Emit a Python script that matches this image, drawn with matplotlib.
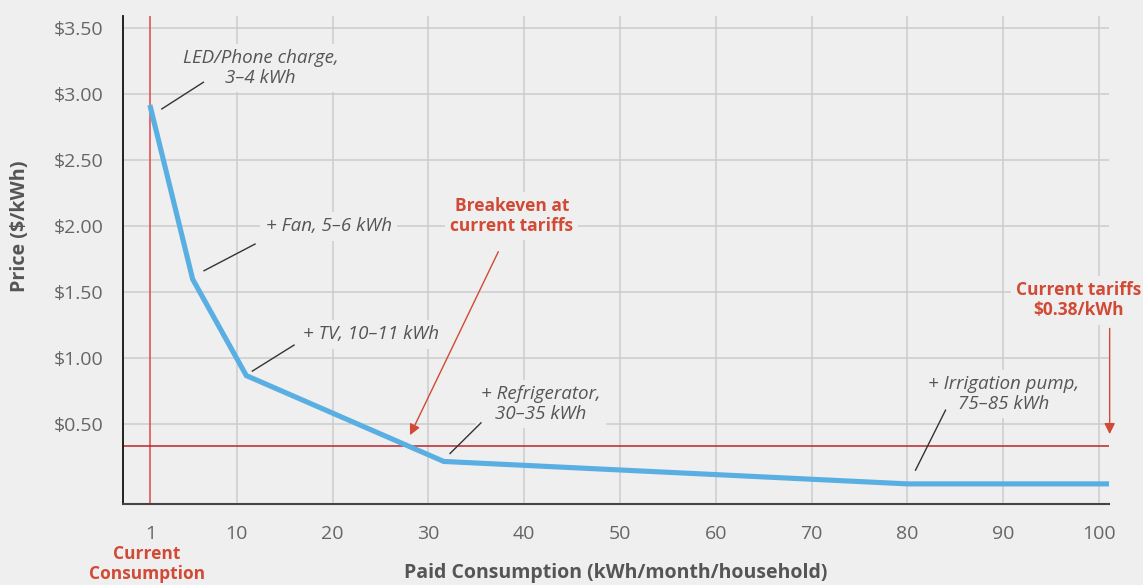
import matplotlib
matplotlib.use("Agg")
import matplotlib.pyplot as plt

# ---- data ----
consumption = [1, 5.4, 11, 31.6, 80, 100.9]
price = [2.9, 1.6, 0.87, 0.22, 0.05, 0.05]
tariff = 0.34
current_consumption = 1
x_ticks = [1, 10, 20, 30, 40, 50, 60, 70, 80, 90, 100]
x_tick_labels = ["1", "10", "20", "30", "40", "50", "60", "70", "80", "90", "100"]
y_ticks = [0.5, 1.0, 1.5, 2.0, 2.5, 3.0, 3.5]
y_tick_labels = ["$0.50", "$1.00", "$1.50", "$2.00", "$2.50", "$3.00", "$3.50"]

BG = "#efefef"
RED = "#d04a35"
BLUE = "#5aafe2"
GRAY_TXT = "#555555"

plt.rcParams['font.family'] = ['Open Sans', 'DejaVu Sans']

fig = plt.figure(figsize=(11.43, 5.85), dpi=100, facecolor=BG)
W, H = 1143, 585
ax = fig.add_axes([122.7 / W, 1 - 503.7 / H, (1108.7 - 122.7) / W, (503.7 - 15.7) / H])
ax.set_facecolor(BG)
ax.set_xlim(-1.9, 101.0)
ax.set_ylim(-0.1, 3.595)

# grid
for xv in x_ticks[1:]:
    ax.axvline(xv, color="#cccccc", lw=1.1, zorder=1)
for yv in y_ticks:
    ax.axhline(yv, color="#cccccc", lw=1.1, zorder=1)

# reference lines
ax.axvline(current_consumption, color="#e0474c", lw=1.1, zorder=2)
ax.axhline(tariff, color="#b8262b", lw=1.1, zorder=2)

# main line
ax.plot(consumption, price, color=BLUE, lw=3.7, solid_joinstyle='miter', zorder=4)

# spines
for s in ["top", "right"]:
    ax.spines[s].set_visible(False)
ax.spines["left"].set_color("#111111")
ax.spines["left"].set_linewidth(1.3)
ax.spines["bottom"].set_color("#444444")
ax.spines["bottom"].set_linewidth(1.5)

ax.set_xticks(x_ticks)
ax.set_xticklabels(x_tick_labels)
ax.set_yticks(y_ticks)
ax.set_yticklabels(y_tick_labels)
ax.tick_params(axis='x', length=0, pad=15, labelsize=14, labelcolor="#666666")
ax.tick_params(axis='y', length=0, pad=14, labelsize=14, labelcolor="#666666")

fig.text(20 / W, 1 - 226 / H, "Price ($/kWh)", rotation=90, ha='center', va='center',
         fontsize=14.2, fontweight='bold', color=GRAY_TXT)
fig.text(616 / W, 1 - 573 / H, "Paid Consumption (kWh/month/household)", ha='center', va='center',
         fontsize=14, fontweight='bold', color=GRAY_TXT)

box = dict(boxstyle='square,pad=0.3', fc=BG, ec='none')
ann_kw = dict(ha='center', va='center', fontsize=13.5, style='italic', color=GRAY_TXT,
              linespacing=1.1, bbox=box, zorder=5)

# annotations: (text, text pos, leader line start, leader line end)
annotations = [
    ("LED/Phone charge,\n3\u20134 kWh", (12.5, 3.2), (2.18, 2.889), (6.52, 3.091)),
    ("+ Fan, 5\u20136 kWh", (19.6, 2.0), (6.59, 1.664), (11.91, 1.866)),
    ("+ TV, 10\u201311 kWh", (24.0, 1.182), (11.63, 0.904), (15.98, 1.101)),
    ("+ Refrigerator,\n30\u201335 kWh", (41.75, 0.656), (32.26, 0.28), (35.49, 0.512)),
    ("+ Irrigation pump,\n75\u201385 kWh", (90.05, 0.73), (80.84, 0.154), (83.97, 0.608)),
]
for txt, pos, p0, p1 in annotations:
    ax.text(pos[0], pos[1], txt, **ann_kw)
    ax.plot([p0[0], p1[0]], [p0[1], p1[1]], color="#333333", lw=1.0, zorder=5)

red_kw = dict(ha='center', va='center', fontsize=12.5, fontweight='bold', color=RED,
              linespacing=1.15, bbox=box, zorder=5, clip_on=False)
ax.text(38.7, 2.08, "Breakeven at\ncurrent tariffs", **red_kw)
ax.annotate("", xy=(28.09, 0.419), xytext=(37.3, 1.808),
            arrowprops=dict(arrowstyle='-|>', color=RED, lw=1.0, mutation_scale=16,
                            shrinkA=0, shrinkB=0), zorder=5)
ax.text(97.9, 1.44, "Current tariffs\n$0.38/kWh", **red_kw)
ax.annotate("", xy=(101.1, 0.427), xytext=(101.1, 1.227), annotation_clip=False,
            arrowprops=dict(arrowstyle='-|>', color=RED, lw=1.0, mutation_scale=16,
                            shrinkA=0, shrinkB=0), zorder=5)
ax.text(0.65, -0.556, "Current\nConsumption", ha='center', va='center', fontsize=12.5,
        fontweight='bold', color=RED, linespacing=1.1, clip_on=False)

fig.savefig("out.png", dpi=100, facecolor=BG)
